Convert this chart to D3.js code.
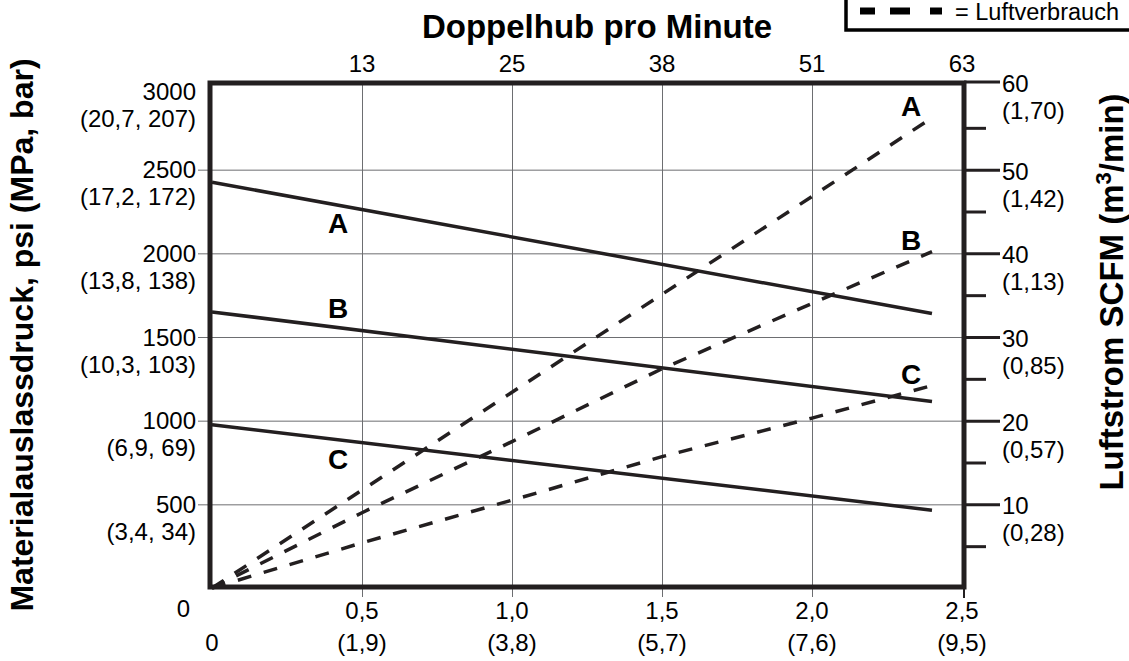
<!DOCTYPE html>
<html><head><meta charset="utf-8">
<script src="https://cdn.jsdelivr.net/npm/d3@7/dist/d3.min.js"></script>
<style>
html,body{margin:0;padding:0;background:#fff;}
svg{display:block;font-family:"Liberation Sans",Arial,Helvetica,sans-serif;}
</style></head><body>
<svg id="chart" width="1129" height="661"></svg>
<script>
// ---------- data ----------
const xTicks = [0.5, 1.0, 1.5, 2.0, 2.5];
const xTickLabels = ["0,5", "1,0", "1,5", "2,0", "2,5"];
const xTickLabelsLpm = ["(1,9)", "(3,8)", "(5,7)", "(7,6)", "(9,5)"];
const cycleLabels = ["13", "25", "38", "51", "63"];
const psiTicks = [500, 1000, 1500, 2000, 2500, 3000];
const psiTickLabels = ["500", "1000", "1500", "2000", "2500", "3000"];
const psiTickSub = ["(3,4, 34)", "(6,9, 69)", "(10,3, 103)", "(13,8, 138)", "(17,2, 172)", "(20,7, 207)"];
const scfmTicks = [10, 20, 30, 40, 50, 60];
const scfmTickLabels = ["10", "20", "30", "40", "50", "60"];
const scfmTickSub = ["(0,28)", "(0,57)", "(0,85)", "(1,13)", "(1,42)", "(1,70)"];
const scfmMinor = [5, 15, 25, 35, 45, 55];
const seriesNames = ["A", "B", "C"];
// fluid outlet pressure (psi) vs flow (gpm)
const pressureX = [0, 2.4];
const pressureA = [2425, 1640];
const pressureB = [1650, 1115];
const pressureC = [975, 465];
// air consumption (scfm) vs flow (gpm)
const airX = [0, 0.5, 1.0, 1.5, 2.0, 2.4];
const airA = [0, 11.7, 23.4, 35.1, 46.8, 56.2];
const airB = [0, 9.0, 17.5, 26.2, 34.0, 40.2];
const airC = [0, 5.4, 10.5, 15.7, 20.3, 24.2];

// ---------- layout ----------
const ink = "#231f20", gridCol = "#6d6e71";
const frame = {left: 210, right: 964, top: 83, bottom: 587};
const x = d3.scaleLinear().domain([0, 2.5]).range([212, 962]);
const y = d3.scaleLinear().domain([0, 3000]).range([588, 86]);
const yR = d3.scaleLinear().domain([0, 60]).range([588, 86]);
const svg = d3.select("#chart");

// vertical gridlines (extend below the frame)
svg.append("g").attr("transform", "translate(0,597)")
  .call(d3.axisTop(x).tickValues(xTicks.slice(0, 4)).tickSize(597 - frame.top).tickFormat(""))
  .call(g => g.select(".domain").remove())
  .call(g => g.selectAll("line").attr("stroke", gridCol).attr("stroke-width", 1));

// horizontal gridlines (extend left of the frame)
svg.append("g").attr("transform", "translate(198,0)")
  .call(d3.axisRight(y).tickValues(psiTicks.slice(0, 5)).tickSize(frame.right - 198).tickFormat(""))
  .call(g => g.select(".domain").remove())
  .call(g => g.selectAll("line").attr("stroke", gridCol).attr("stroke-width", 1));

// right axis ticks
svg.append("g").attr("transform", `translate(${frame.right},0)`)
  .call(d3.axisRight(yR).tickValues(scfmTicks.slice(0, 5)).tickSize(36).tickFormat(""))
  .call(g => g.select(".domain").remove())
  .call(g => g.selectAll("line").attr("stroke", ink).attr("stroke-width", 3));
svg.append("line").attr("x1", frame.right).attr("x2", frame.right + 36)
  .attr("y1", frame.top - 1).attr("y2", frame.top - 1).attr("stroke", ink).attr("stroke-width", 3);
svg.append("g").attr("transform", `translate(${frame.right - 2},0)`)
  .call(d3.axisRight(yR).tickValues(scfmMinor).tickSize(24).tickFormat(""))
  .call(g => g.select(".domain").remove())
  .call(g => g.selectAll("line").attr("stroke", ink).attr("stroke-width", 3));

// bottom tick at 2.5
svg.append("line").attr("x1", frame.right).attr("x2", frame.right)
  .attr("y1", frame.bottom).attr("y2", 598).attr("stroke", ink).attr("stroke-width", 2);

// frame
svg.append("rect").attr("x", frame.left).attr("y", frame.top)
  .attr("width", frame.right - frame.left).attr("height", frame.bottom - frame.top)
  .attr("fill", "none").attr("stroke", ink).attr("stroke-width", 5);

// pressure lines (solid)
const pSeries = [pressureA, pressureB, pressureC];
const pLine = d3.line().x((d, i) => x(pressureX[i])).y(d => y(d));
pSeries.forEach(s => {
  svg.append("path").attr("d", pLine(s)).attr("fill", "none")
    .attr("stroke", ink).attr("stroke-width", 3.5);
});
// air lines (dashed)
const aSeries = [airA, airB, airC];
const aLine = d3.line().x((d, i) => x(airX[i])).y(d => yR(d));
aSeries.forEach(s => {
  svg.append("path").attr("d", aLine(s)).attr("fill", "none")
    .attr("stroke", ink).attr("stroke-width", 3.5).attr("stroke-dasharray", "14,13");
});

// series labels
const pOffsets = [28, -10, 29];
pSeries.forEach((s, i) => {
  const xv = 0.42;
  const yv = s[0] + (s[1] - s[0]) * (xv - pressureX[0]) / (pressureX[1] - pressureX[0]);
  svg.append("text").attr("x", x(xv)).attr("y", y(yv) + pOffsets[i])
    .attr("text-anchor", "middle").attr("font-size", 28).attr("font-weight", "bold")
    .attr("fill", "#000").text(seriesNames[i]);
});
aSeries.forEach((s, i) => {
  svg.append("text").attr("x", x(2.33)).attr("y", yR(s[s.length - 1]) - 2)
    .attr("text-anchor", "middle").attr("font-size", 28).attr("font-weight", "bold")
    .attr("fill", "#000").text(seriesNames[i]);
});

// tick label helper
function txt(xp, yp, s, anchor, size, weight) {
  return svg.append("text").attr("x", xp).attr("y", yp).attr("text-anchor", anchor || "start")
    .attr("font-size", size || 24).attr("font-weight", weight || "normal").attr("fill", "#000").text(s);
}

// left tick labels
psiTicks.forEach((v, i) => {
  const ty = Math.max(y(v), 91);
  txt(196, ty + 8.5, psiTickLabels[i], "end");
  txt(196, ty + 35.5, psiTickSub[i], "end");
});
txt(190, 617, "0", "end");

// right tick labels
scfmTicks.forEach((v, i) => {
  const ty = v === 60 ? frame.top - 1 : yR(v);
  txt(1002, ty + 10, scfmTickLabels[i], "start");
  txt(1002, ty + 37, scfmTickSub[i], "start");
});

// bottom tick labels
xTicks.forEach((v, i) => {
  txt(x(v), 619, xTickLabels[i], "middle");
  txt(x(v), 651, xTickLabelsLpm[i], "middle");
});
txt(x(0), 651, "0", "middle");

// top tick labels (cycles per minute)
xTicks.forEach((v, i) => {
  txt(x(v), 72, cycleLabels[i], "middle");
});

// titles
txt(597, 38, "Doppelhub pro Minute", "middle", 33, "bold");
svg.append("text").attr("transform", "translate(33,335) rotate(-90)")
  .attr("text-anchor", "middle").attr("font-size", 32).attr("font-weight", "bold").attr("fill", "#000")
  .text("Materialauslassdruck, psi (MPa, bar)");
const rt = svg.append("text").attr("transform", "translate(1123,292) rotate(-90)")
  .attr("text-anchor", "middle").attr("font-size", 33).attr("font-weight", "bold").attr("fill", "#000");
rt.append("tspan").text("Luftstrom SCFM (m");
rt.append("tspan").attr("font-size", 22).attr("dy", -12).text("3");
rt.append("tspan").attr("dy", 12).text("/min)");

// legend (box runs off the right edge)
svg.append("rect").attr("x", 846).attr("y", -10).attr("width", 400).attr("height", 40)
  .attr("fill", "#fff").attr("stroke", "#000").attr("stroke-width", 3.5);
svg.append("line").attr("x1", 860).attr("x2", 942).attr("y1", 11).attr("y2", 11)
  .attr("stroke", "#000").attr("stroke-width", 7).attr("stroke-dasharray", "15,15,20,20,12");
txt(955, 20, "= Luftverbrauch", "start", 23.5);
</script>
</body></html>
